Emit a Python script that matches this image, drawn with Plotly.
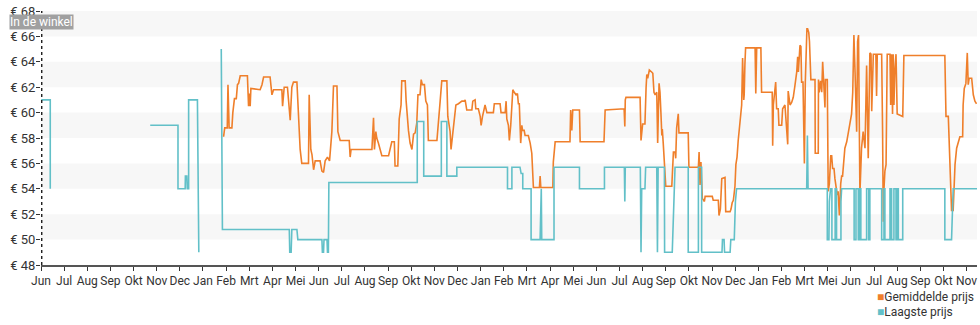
import plotly.graph_objects as go

# ---- data ----
month_labels = ["Jun", "Jul", "Aug", "Sep", "Okt", "Nov", "Dec", "Jan", "Feb", "Mrt", "Apr", "Mei",
                "Jun", "Jul", "Aug", "Sep", "Okt", "Nov", "Dec", "Jan", "Feb", "Mrt", "Apr", "Mei",
                "Jun", "Jul", "Aug", "Sep", "Okt", "Nov", "Dec", "Jan", "Feb", "Mrt", "Mei",
                "Jun", "Jul", "Aug", "Sep", "Okt", "Nov"]

price_ticks = [48, 50, 52, 54, 56, 58, 60, 62, 64, 66, 68]

# Gemiddelde prijs (month index since first Jun, price in EUR)
avg_x = [7.89, 7.94, 8.05, 8.08, 8.13, 8.25, 8.29, 8.36, 8.44, 8.49, 8.54, 8.61, 8.92, 8.97, 9.00, 9.04, 9.07,
         9.47, 9.55, 9.62, 9.90, 9.98, 10.05, 10.41, 10.44, 10.51, 10.65, 10.70, 10.77, 10.84, 10.91, 11.06,
         11.13, 11.20, 11.27, 11.56, 11.59, 11.66, 11.71, 11.78, 11.85, 12.06, 12.14, 12.21, 12.28, 12.38,
         12.47, 12.57, 12.64, 12.79, 12.83, 12.93, 13.32, 13.36, 13.40, 14.30, 14.37, 14.41, 14.47, 14.51,
         14.58, 14.66, 14.73, 15.02, 15.09, 15.16, 15.27, 15.30, 15.42, 15.48, 15.56, 15.59, 15.74, 15.78,
         15.88, 15.95, 16.03, 16.10, 16.17, 16.24, 16.29, 16.38, 16.43, 16.48, 16.57, 16.63, 16.70, 16.74,
         17.11, 17.18, 17.25, 17.32, 17.54, 17.58, 17.68, 17.72, 17.78, 17.87, 17.93, 18.04, 18.19, 18.29,
         18.33, 18.40, 18.62, 18.66, 18.76, 18.79, 18.90, 18.98, 19.02, 19.08, 19.19, 19.27, 19.55, 19.59,
         19.84, 19.88, 20.06, 20.10, 20.13, 20.20, 20.24, 20.30, 20.35, 20.39, 20.45, 20.53, 20.59, 20.63,
         20.67, 20.70, 20.73, 20.78, 20.81, 20.88, 20.92, 21.06, 21.14, 21.21, 21.28, 21.54, 21.57, 21.60,
         22.12, 22.14, 22.22, 22.86, 22.89, 22.94, 22.98, 23.27, 23.30, 24.33, 24.38, 25.20, 25.23, 25.25,
         25.28, 25.89, 25.93, 26.00, 26.10, 26.15, 26.18, 26.22, 26.29, 26.39, 26.44, 26.49, 26.54, 26.61,
         26.65, 26.71, 26.75, 26.79, 26.83, 26.85, 26.89, 26.94, 26.97, 27.00, 27.26, 27.28, 27.33, 27.40,
         27.43, 27.47, 27.54, 27.57, 27.97, 28.00, 28.41, 28.44, 28.48, 28.52, 28.55, 28.58, 28.67, 28.70,
         29.01, 29.05, 29.27, 29.30, 29.36, 29.42, 29.56, 29.59, 29.78, 29.82, 29.87, 29.92, 29.96, 29.99,
         30.03, 30.08, 30.13, 30.21, 30.28, 30.32, 30.37, 30.39, 30.42, 30.45, 30.86, 30.89, 30.93, 31.11,
         31.14, 31.60, 31.62, 31.65, 31.75, 31.79, 31.86, 31.89, 32.01, 32.05, 32.15, 32.27, 32.29, 32.37,
         32.44, 32.51, 32.58, 32.66, 32.70, 32.73, 32.80, 32.84, 32.87, 32.93, 32.99, 33.03, 33.10, 33.13,
         33.18, 33.21, 33.27, 33.45, 33.46, 33.59, 33.60, 33.63, 33.69, 33.74, 33.78, 33.84, 33.88, 33.90,
         33.98, 34.02, 34.07, 34.13, 34.17, 34.21, 34.27, 34.31, 34.35, 34.41, 34.45, 34.50, 34.56, 34.60,
         34.64, 34.67, 34.74, 34.82, 34.89, 34.96, 35.03, 35.08, 35.13, 35.18, 35.25, 35.29, 35.33, 35.39,
         35.46, 35.53, 35.61, 35.68, 35.75, 35.82, 35.87, 35.90, 35.97, 36.08, 36.11, 36.14, 36.33, 36.37,
         36.40, 36.43, 36.47, 36.52, 36.57, 36.69, 36.72, 36.76, 36.80, 36.83, 36.86, 36.90, 36.95, 37.00,
         37.24, 37.26, 37.29, 39.06, 39.11, 39.21, 39.25, 39.31, 39.35, 39.42, 39.45, 39.50, 39.57, 39.64,
         39.71, 39.83, 39.85, 39.90, 39.97, 40.03, 40.07, 40.11, 40.22, 40.29, 40.36, 40.43]
avg_y = [58.1, 58.8, 58.8, 62.2, 58.8, 58.8, 60.0, 61.1, 61.1, 62.2, 62.3, 62.9, 62.9, 60.5, 61.5, 60.5, 61.9,
         61.8, 62.2, 62.8, 62.8, 61.4, 61.8, 61.8, 60.5, 62.0, 62.0, 60.9, 59.4, 62.0, 62.4, 62.4,
         59.5, 57.1, 56.0, 56.0, 61.4, 57.1, 56.7, 55.5, 56.2, 56.2, 55.4, 55.3, 56.2, 56.5,
         56.2, 58.5, 62.1, 62.1, 58.5, 57.8, 57.8, 56.5, 57.1, 57.1, 59.6, 57.1, 58.5, 58.0,
         57.6, 57.1, 56.6, 56.6, 57.2, 57.7, 57.7, 55.8, 55.8, 59.5, 60.6, 62.5, 62.5, 60.9,
         58.6, 57.6, 57.1, 58.3, 58.4, 59.2, 61.4, 61.4, 62.6, 62.2, 62.2, 60.9, 60.6, 57.8,
         57.8, 59.7, 60.9, 62.5, 62.5, 59.7, 58.5, 57.1, 58.0, 59.7, 60.6, 60.7, 60.9, 60.9,
         61.0, 60.2, 60.2, 60.9, 61.0, 60.3, 60.3, 59.7, 59.0, 59.7, 60.6, 60.0, 60.0, 60.7,
         60.7, 60.0, 60.0, 60.9, 59.5, 59.0, 57.8, 59.0, 60.6, 61.8, 61.6, 61.4, 61.5, 60.7,
         60.7, 57.6, 57.6, 59.0, 58.6, 58.6, 58.2, 58.2, 57.6, 56.8, 54.1, 54.1, 55.0, 54.1,
         54.1, 56.1, 57.7, 57.7, 60.2, 58.6, 60.2, 60.2, 57.7, 57.7, 60.2, 60.3, 58.9, 61.0,
         61.2, 61.2, 57.8, 59.1, 59.1, 62.0, 63.0, 62.7, 63.35, 63.2, 63.1, 61.6, 61.4, 61.6,
         57.6, 62.3, 61.6, 60.0, 58.2, 58.7, 57.6, 56.0, 55.1, 54.2, 54.2, 55.6, 56.9, 56.9,
         56.4, 58.8, 59.9, 58.4, 58.4, 55.7, 55.7, 56.9, 54.3, 56.1, 54.3, 53.25, 53.0, 53.4,
         53.4, 53.1, 53.1, 51.9, 52.4, 54.8, 54.9, 52.2, 52.2, 52.4, 52.9, 53.1, 53.7, 54.2,
         55.9, 56.5, 57.8, 59.3, 60.6, 64.3, 61.0, 61.4, 63.8, 65.1, 65.1, 61.5, 65.1, 65.1,
         61.6, 61.6, 57.4, 60.6, 62.4, 60.3, 60.3, 59.0, 59.0, 60.3, 60.6, 57.5, 61.7, 60.6,
         60.8, 61.2, 62.1, 63.2, 64.4, 63.2, 65.3, 65.2, 62.4, 62.4, 56.0, 62.4, 66.6, 66.6,
         66.3, 65.6, 62.6, 62.6, 56.8, 56.8, 62.6, 61.6, 62.5, 61.6, 64.0, 62.0, 60.4, 62.6,
         62.6, 53.8, 54.4, 56.6, 56.6, 55.6, 55.6, 54.8, 54.4, 53.5, 53.8, 51.9, 54.4, 55.0,
         55.0, 55.9, 57.2, 57.7, 58.5, 59.4, 59.9, 61.6, 66.1, 63.2, 58.5, 65.6, 66.1, 53.6,
         57.2, 58.5, 57.2, 63.7, 56.4, 64.7, 64.6, 60.1, 64.6, 64.6, 61.3, 64.6, 64.6, 58.5,
         51.4, 54.0, 55.4, 55.9, 64.6, 64.6, 60.6, 64.6, 59.9, 64.6, 60.6, 63.3, 64.6, 59.9,
         59.7, 61.5, 64.5, 64.5, 59.7, 59.7, 57.2, 54.4, 52.3, 52.3, 54.1, 55.9, 57.2, 57.7,
         58.1, 58.1, 60.6, 61.9, 62.3, 64.7, 62.2, 62.7, 62.7, 61.4, 60.9, 60.7]

# Laagste prijs (None = no data)
low_x = [0.01, 0.40, 0.40, None,
         4.72, 5.92, 5.92, 6.23, 6.24, 6.30, 6.32, 6.38, 6.38, 6.76, 6.82, None,
         7.79, 7.84, 10.73, 10.75, 10.81, 10.84, 11.06, 11.10, 12.14, 12.16, 12.21, 12.23, 12.36, 12.38,
         12.42, 12.44, 16.26, 16.26, 16.54, 16.54, 17.30, 17.30, 17.54, 17.54, 17.97, 17.97, 20.16, 20.16,
         20.35, 20.35, 20.70, 20.75, 20.82, 20.82, 21.18, 21.18, 21.57, 21.59, 21.62, 21.64, 22.17, 22.17,
         23.27, 23.27, 24.35, 24.35, 25.21, 25.23, 25.25, 25.90, 25.93, 25.96, 26.10, 26.13, 26.61, 26.64,
         26.67, 26.94, 26.95, 27.28, 27.40, 27.97, 27.97, 28.41, 28.41, 28.55, 28.55, 29.43, 29.45, 29.52,
         29.54, 29.78, 29.81, 29.96, 30.01, 30.06, 33.09, 33.12, 33.15, 33.98, 33.98, 34.05, 34.07, 34.12,
         34.18, 34.18, 34.32, 34.32, 34.38, 34.38, 34.57, 34.57, 34.60, 35.14, 35.14, 35.22, 35.22, 35.32,
         35.32, 35.39, 35.39, 35.43, 35.43, 35.68, 35.68, 35.77, 35.77, 35.82, 35.82, 36.33, 36.33, 36.43,
         36.43, 36.47, 36.47, 36.69, 36.69, 36.76, 36.76, 36.86, 36.86, 36.95, 36.95, 37.00, 37.00, 37.05,
         37.05, 37.24, 37.24, 39.06, 39.06, 39.35, 39.39, 39.42, 40.45]
low_y = [61, 61, 54, None,
         59, 59, 54, 54, 55, 55, 54, 54, 61, 61, 49, None,
         65, 50.8, 50.8, 49, 49, 50.8, 50.8, 50.0, 50.0, 49, 49, 50.0, 50.0, 49,
         49, 54.5, 54.5, 59.3, 59.3, 55.0, 55.0, 59.3, 59.3, 55.0, 55.0, 55.7, 55.7, 54.0,
         54.0, 55.7, 55.7, 55.2, 55.2, 54.0, 54.0, 50.0, 50.0, 54.0, 54.0, 50.0, 50.0, 55.7,
         55.7, 54.0, 54.0, 55.7, 55.7, 53.0, 55.7, 55.7, 49, 54.0, 54.0, 55.7, 55.7, 49,
         55.7, 55.7, 49, 49, 55.7, 55.7, 49, 49, 55.7, 55.7, 49, 49, 50, 50,
         49, 49, 50, 50, 53, 54, 54, 58.2, 54, 54, 50, 50, 53, 54,
         54, 50, 50, 54, 54, 50, 50, 53, 54, 54, 50, 50, 54, 54,
         50, 50, 54, 54, 50, 50, 54, 54, 50, 50, 54, 54, 50, 50,
         54, 54, 50, 50, 54, 54, 50, 50, 54, 54, 50, 50, 54, 54,
         50, 50, 54, 54, 50, 50, 52.5, 54, 54]

avg_name = "Gemiddelde prijs"
low_name = "Laagste prijs"
store_label = "In de winkel"
store_month = 0.03

# ---- style ----
ORANGE = "#ef7f2b"
CYAN = "#62c0c8"
BAND = "#f7f7f7"
FONT = "Roboto, Arial, sans-serif"

fig = go.Figure()

fig.add_trace(go.Scatter(x=avg_x, y=avg_y, mode="lines", name=avg_name, showlegend=False,
                         line=dict(color=ORANGE, width=1.6), hoverinfo="skip"))
fig.add_trace(go.Scatter(x=low_x, y=low_y, mode="lines", name=low_name, showlegend=False,
                         connectgaps=False, line=dict(color=CYAN, width=1.6), hoverinfo="skip"))

# alternating bands
for lo in price_ticks[1:-1:2]:
    fig.add_shape(type="rect", xref="paper", yref="y", x0=0, x1=1, y0=lo, y1=lo + 2,
                  fillcolor=BAND, line=dict(width=0), layer="below")

# store marker line
fig.add_shape(type="line", xref="x", yref="paper", x0=store_month, x1=store_month, y0=0, y1=1,
              line=dict(color="#222", width=1.5, dash="dot"))
fig.add_annotation(x=store_month, y=67.12, xref="x", yref="y", text=store_label, showarrow=False,
                   font=dict(family=FONT, size=12, color="white"), bgcolor="#a0a0a0",
                   borderpad=0, xanchor="center", yanchor="middle")

# legend (square swatch + name), stacked at the bottom right
for i, (name, col) in enumerate([(avg_name, ORANGE), (low_name, CYAN)]):
    fig.add_annotation(xref="paper", yref="paper", x=0.891, y=-0.126 - 0.059 * i,
                       xanchor="left", yanchor="middle", showarrow=False,
                       text='<span style="color:%s">■</span>%s' % (col, name),
                       font=dict(family=FONT, size=12, color="#333"))

fig.update_layout(
    width=980, height=325,
    margin=dict(l=41, r=3, t=11, b=60, autoexpand=False),
    paper_bgcolor="white", plot_bgcolor="white",
    font=dict(family=FONT, size=12, color="#333"),
    showlegend=False,
    hovermode=False,
)

fig.update_xaxes(range=[0, 40.45], tickmode="array", tickvals=list(range(len(month_labels))),
                 ticktext=month_labels, tickangle=0, showgrid=False, zeroline=False,
                 showline=True, linecolor="#555", linewidth=2, ticks="outside", ticklen=4,
                 tickcolor="#333", tickfont=dict(family=FONT, size=12, color="#333"))
fig.update_yaxes(range=[48, 68], tickmode="array", tickvals=price_ticks,
                 ticktext=["€ %d" % v for v in price_ticks], showgrid=False, zeroline=False,
                 showline=False, ticks="outside", ticklen=4, tickcolor="#333",
                 ticklabelstandoff=-2,
                 tickfont=dict(family=FONT, size=13, color="#333"))

fig.write_html("out.html")
